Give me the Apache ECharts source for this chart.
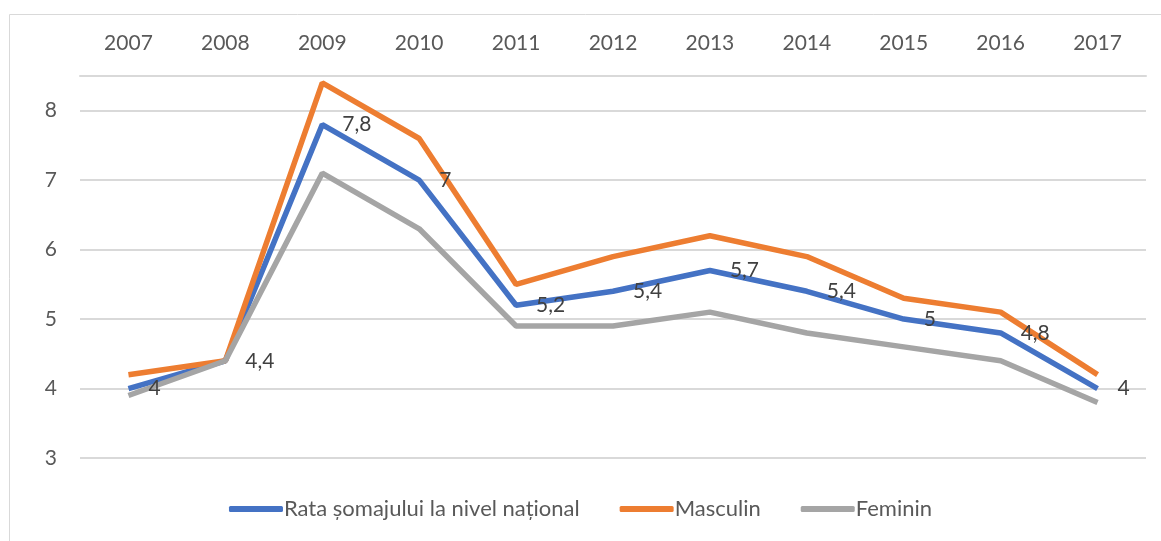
<!DOCTYPE html>
<html>
<head>
<meta charset="utf-8">
<script src="https://cdn.jsdelivr.net/npm/echarts@6/dist/echarts.min.js"></script>
<style>
  html, body { margin: 0; padding: 0; background: #fff; }
  #main { width: 1161px; height: 541px; }
</style>
</head>
<body>
<div id="main"></div>
<script>
var years = ["2007", "2008", "2009", "2010", "2011", "2012", "2013", "2014", "2015", "2016", "2017"]
var national = [4, 4.4, 7.8, 7, 5.2, 5.4, 5.7, 5.4, 5, 4.8, 4]
var masculin = [4.2, 4.4, 8.4, 7.6, 5.5, 5.9, 6.2, 5.9, 5.3, 5.1, 4.2]
var feminin = [3.9, 4.4, 7.1, 6.3, 4.9, 4.9, 5.1, 4.8, 4.6, 4.4, 3.8]

var font = "Lato, 'Noto Sans', sans-serif"
var myChart = echarts.init(document.getElementById("main"))

var option = {
  animation: false,
  textStyle: { fontFamily: font },
  graphic: [
    {
      type: "rect",
      shape: { x: 9.5, y: 14.5, width: 1160, height: 540 },
      style: { fill: "none", stroke: "#d9d9d9", lineWidth: 1 }
    }
  ],
  grid: { left: 80, right: 15, top: 76, bottom: 83 },
  legend: {
    bottom: 16,
    left: "center",
    itemWidth: 54,
    itemHeight: 6,
    itemGap: 40,
    icon: "roundRect",
    textStyle: { fontSize: 22, color: "#595959", fontFamily: font, padding: [0, 0, 0, -4] },
    data: ["Rata șomajului la nivel național", "Masculin", "Feminin"]
  },
  xAxis: {
    type: "category",
    position: "top",
    data: years,
    boundaryGap: true,
    axisLine: { lineStyle: { color: "#d9d9d9", width: 2 } },
    axisTick: { show: false },
    axisLabel: { fontSize: 21, color: "#595959", margin: 22 }
  },
  yAxis: {
    type: "value",
    min: 3,
    max: 8.5,
    interval: 1,
    axisLine: { show: false },
    axisTick: { show: false },
    splitLine: { lineStyle: { color: "#d9d9d9", width: 2 } },
    axisLabel: {
      fontSize: 21,
      color: "#595959",
      margin: 23,
      formatter: function (v) { return v % 1 === 0 ? String(v) : "" }
    }
  },
  series: [
    {
      name: "Rata șomajului la nivel național",
      type: "line",
      data: national,
      symbol: "circle",
      symbolSize: 0,
      showSymbol: true,
      color: "#4472C4",
      lineStyle: { width: 5.5, color: "#4472C4" },
      label: {
        show: true,
        position: "right",
        distance: 20,
        fontSize: 21,
        color: "#404040",
        formatter: function (p) { return String(p.value).replace(".", ",") }
      }
    },
    {
      name: "Masculin",
      type: "line",
      data: masculin,
      showSymbol: false,
      symbol: "none",
      color: "#ED7D31",
      lineStyle: { width: 5.5, color: "#ED7D31" }
    },
    {
      name: "Feminin",
      type: "line",
      data: feminin,
      showSymbol: false,
      symbol: "none",
      color: "#A5A5A5",
      lineStyle: { width: 5.5, color: "#A5A5A5" }
    }
  ]
}

myChart.setOption(option)
</script>
</body>
</html>
